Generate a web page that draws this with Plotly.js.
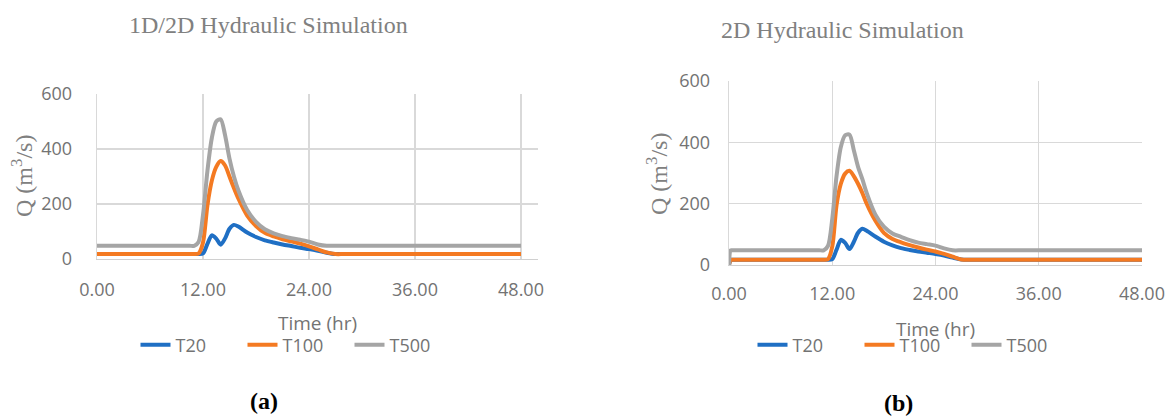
<!DOCTYPE html>
<html>
<head>
<meta charset="utf-8">
<script src="https://cdn.plot.ly/plotly-3.0.1.min.js"></script>
<style>
  html, body { margin: 0; padding: 0; background: #ffffff; }
  #chart { width: 1173px; height: 416px; }
</style>
</head>
<body>
<div id="chart"></div>
<script>
// ---- Data ----
const seriesNames = ["T20", "T100", "T500"];
const xTicks = [0, 12, 24, 36, 48];
const yTicks = [0, 200, 400, 600];

// (a) 1D/2D Hydraulic Simulation
const timeA = [0, 4, 8, 10, 10.5, 11, 11.5, 12, 12.5, 13, 13.5, 14, 14.5, 15, 15.5, 16, 17, 18, 19, 20, 21, 22, 23, 24, 25, 26, 27, 28, 36, 48];
const t20A  = [18, 18, 18, 18, 18, 18, 18, 20, 55, 86, 74, 52, 75, 110, 124, 118, 96, 80, 68, 60, 53, 47, 41, 36, 30, 23, 18, 18, 18, 18];
const t100A = [18, 18, 18, 18, 18, 18, 20, 60, 195, 285, 335, 356, 340, 300, 258, 220, 158, 120, 95, 82, 72, 64, 56, 46, 35, 24, 18, 18, 18, 18];
const t500A = [48, 48, 48, 48, 48, 48, 62, 160, 320, 440, 500, 508, 450, 365, 300, 250, 178, 135, 108, 93, 83, 76, 70, 63, 53, 48, 48, 48, 48, 48];

// (b) 2D Hydraulic Simulation
const timeB = [0, 0.2, 0.4, 1, 4, 8, 10, 10.5, 11, 11.5, 12, 12.5, 13, 13.5, 14, 14.5, 15, 15.5, 16, 17, 18, 19, 20, 21, 22, 23, 24, 25, 26, 27, 28, 36, 48];
const t20B  = [0, 17, 17, 17, 17, 17, 17, 17, 17, 17, 19, 50, 82, 72, 52, 75, 105, 118, 112, 93, 76, 64, 55, 49, 44, 40, 36, 31, 24, 18, 17, 17, 17];
const t100B = [0, 17, 17, 17, 17, 17, 17, 17, 17, 19, 60, 195, 265, 298, 307, 290, 265, 235, 200, 145, 105, 85, 74, 65, 57, 50, 44, 36, 27, 18, 17, 17, 17];
const t500B = [0, 48, 48, 48, 48, 48, 48, 48, 48, 62, 150, 290, 385, 423, 425, 375, 320, 280, 235, 165, 125, 103, 92, 81, 73, 68, 63, 54, 48, 48, 48, 48, 48];

// ---- Styling ----
const colors = ["#1f6fc4", "#f47a22", "#a5a5a5"];
const W = 1173, H = 416;
const px = v => v / W;
const py = v => 1 - v / H;
const tickFont = { family: "Open Sans, sans-serif", size: 18, color: "#737373" };
const serifGray = { family: "Liberation Serif, serif", size: 24, color: "#808080" };

function mk(x, y, i, xa, ya, leg) {
  return {
    type: "scatter", mode: "lines", x: x, y: y, name: seriesNames[i],
    xaxis: xa, yaxis: ya, legend: leg,
    line: { color: colors[i], width: 4, shape: "spline", smoothing: 0.8 },
    hoverinfo: "skip"
  };
}

const data = [
  mk(timeA, t20A, 0, "x", "y", "legend"),
  mk(timeA, t100A, 1, "x", "y", "legend"),
  mk(timeA, t500A, 2, "x", "y", "legend"),
  mk(timeB, t20B, 0, "x2", "y2", "legend2"),
  mk(timeB, t100B, 1, "x2", "y2", "legend2"),
  mk(timeB, t500B, 2, "x2", "y2", "legend2")
];

function xAxis(dom, range, anchor, standoff) {
  return {
    domain: dom, range: range, anchor: anchor,
    tickvals: xTicks, tickformat: ".2f", ticks: "",
    showgrid: true, gridcolor: "#d9d9d9", gridwidth: 1.3,
    zeroline: false, showline: true, linecolor: "#d0d0d0", linewidth: 1.3,
    tickfont: tickFont, ticklabelstandoff: standoff, fixedrange: true
  };
}
function yAxis(dom, anchor, standoff) {
  return {
    domain: dom, range: [0, 600], anchor: anchor,
    tickvals: yTicks, ticks: "",
    showgrid: true, gridcolor: "#d9d9d9", gridwidth: 1.3,
    zeroline: false, showline: true, linecolor: "#d9d9d9", linewidth: 1.3,
    tickfont: tickFont, ticklabelstandoff: standoff, fixedrange: true
  };
}

const legendFont = { family: "Open Sans, sans-serif", size: 18, color: "#737373" };

const layout = {
  width: W, height: H,
  margin: { l: 0, r: 0, t: 0, b: 0 },
  paper_bgcolor: "#ffffff", plot_bgcolor: "#ffffff",
  showlegend: true,
  xaxis: xAxis([px(97), px(538)], [0, 48 * 441 / 424], "y", 14),
  yaxis: yAxis([py(259), py(94)], "x", 20),
  xaxis2: xAxis([px(729), px(1142)], [0, 48], "y2", 12),
  yaxis2: yAxis([py(265), py(81)], "x2", 14),
  legend: {
    orientation: "h", x: px(296), xanchor: "center", y: py(345), yanchor: "middle",
    font: legendFont, entrywidth: 62, bgcolor: "rgba(0,0,0,0)",
    itemclick: false, itemdoubleclick: false
  },
  legend2: {
    orientation: "h", x: px(913), xanchor: "center", y: py(345), yanchor: "middle",
    font: legendFont, entrywidth: 62, bgcolor: "rgba(0,0,0,0)",
    itemclick: false, itemdoubleclick: false
  },
  annotations: [
    { text: "1D/2D Hydraulic Simulation", xref: "paper", yref: "paper", x: px(268), y: py(25),
      xanchor: "center", yanchor: "middle", showarrow: false, font: serifGray },
    { text: "2D Hydraulic Simulation", xref: "paper", yref: "paper", x: px(842), y: py(30),
      xanchor: "center", yanchor: "middle", showarrow: false, font: serifGray },
    { text: "Q (m<sup>3</sup>/s)", xref: "paper", yref: "paper", x: px(22), y: py(176),
      xanchor: "center", yanchor: "middle", textangle: -90, showarrow: false, font: serifGray },
    { text: "Q (m<sup>3</sup>/s)", xref: "paper", yref: "paper", x: px(657), y: py(174),
      xanchor: "center", yanchor: "middle", textangle: -90, showarrow: false, font: serifGray },
    { text: "Time (hr)", xref: "paper", yref: "paper", x: px(317), y: py(323),
      xanchor: "center", yanchor: "middle", showarrow: false,
      font: { family: "Open Sans, sans-serif", size: 19, color: "#737373" } },
    { text: "Time (hr)", xref: "paper", yref: "paper", x: px(935), y: py(329),
      xanchor: "center", yanchor: "middle", showarrow: false,
      font: { family: "Open Sans, sans-serif", size: 19, color: "#737373" } },
    { text: "<b>(a)</b>", xref: "paper", yref: "paper", x: px(264), y: py(401),
      xanchor: "center", yanchor: "middle", showarrow: false,
      font: { family: "Liberation Serif, serif", size: 24, color: "#000000" } },
    { text: "<b>(b)</b>", xref: "paper", yref: "paper", x: px(898), y: py(403),
      xanchor: "center", yanchor: "middle", showarrow: false,
      font: { family: "Liberation Serif, serif", size: 24, color: "#000000" } }
  ]
};

Plotly.newPlot("chart", data, layout, { staticPlot: true, displayModeBar: false });
</script>
</body>
</html>
